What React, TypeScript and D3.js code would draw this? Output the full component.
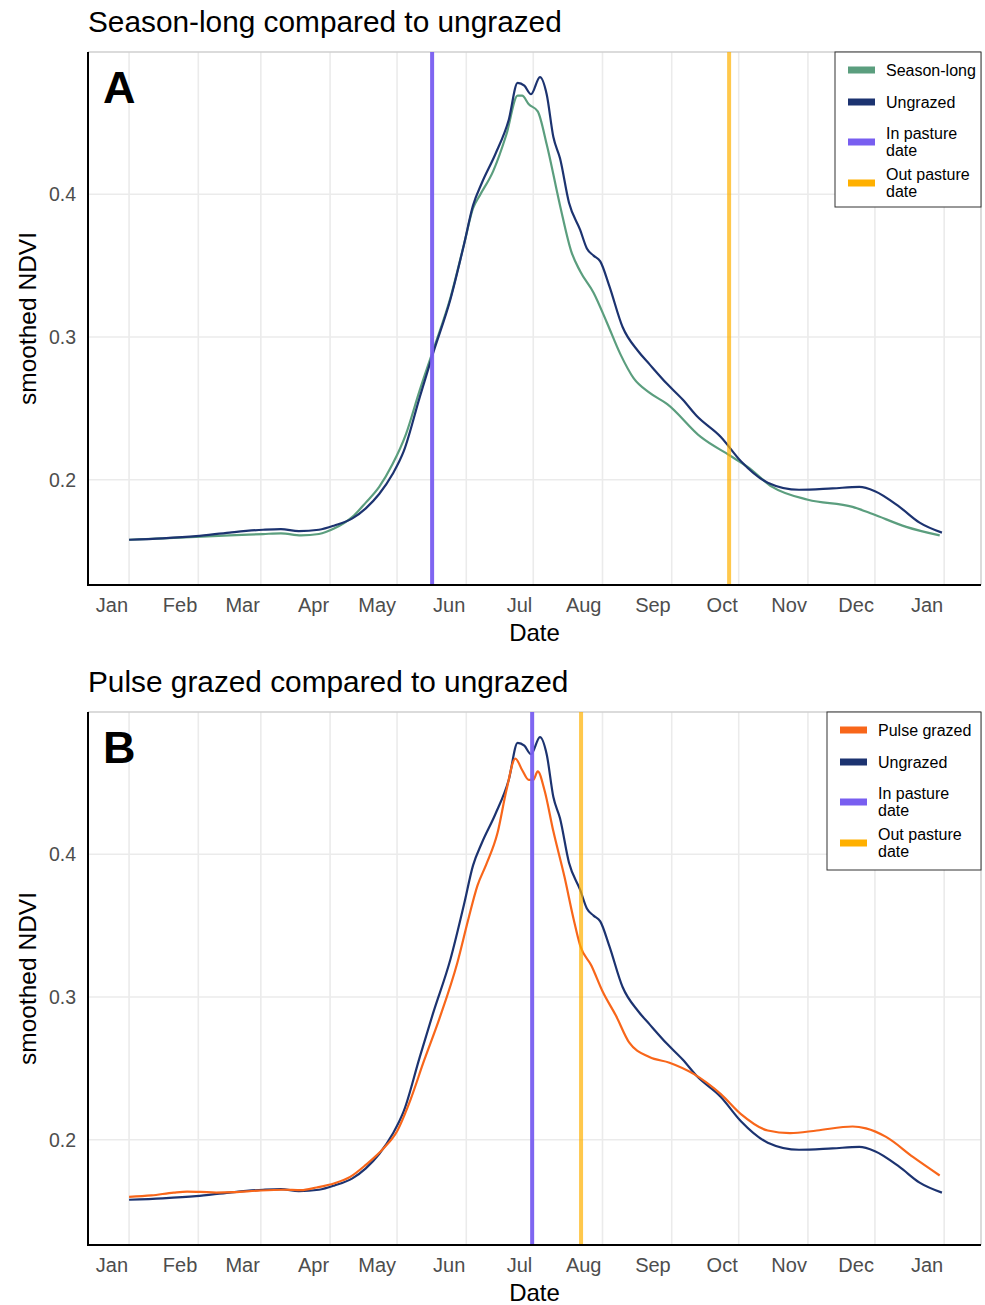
import React from "react";
import * as d3 from "d3";

// day-of-year offsets (from Jan 1) and smoothed NDVI
const ungrazedDays = [0, 15, 30, 45, 60, 68, 76, 85, 92, 100, 106, 112, 118, 123, 130, 136, 144, 150, 154, 158, 164, 170, 174, 177, 180, 184, 187, 190, 193, 197, 202, 205, 208, 211, 215, 221, 228, 233, 241, 248, 254, 265, 274, 286, 300, 315, 327, 334, 345, 354, 364];
const ungrazedNdvi = [0.158, 0.159, 0.1605, 0.163, 0.165, 0.1655, 0.164, 0.165, 0.168, 0.173, 0.18, 0.19, 0.204, 0.22, 0.257, 0.288, 0.327, 0.365, 0.392, 0.408, 0.428, 0.452, 0.478, 0.476, 0.47, 0.482, 0.47, 0.44, 0.425, 0.394, 0.375, 0.362, 0.357, 0.353, 0.336, 0.307, 0.29, 0.281, 0.267, 0.256, 0.245, 0.23, 0.213, 0.198, 0.193, 0.194, 0.195, 0.192, 0.181, 0.17, 0.163];

const seasonDays = [0, 30, 45, 60, 68, 77, 85, 92, 100, 106, 112, 118, 124, 130, 136, 144, 150, 154, 157, 163, 169, 174, 176, 179, 183, 187, 193, 198, 202, 208, 214, 220, 226, 233, 241, 256, 269, 277, 288, 304, 324, 333, 348, 363];
const seasonNdvi = [0.158, 0.16, 0.161, 0.162, 0.1625, 0.161, 0.162, 0.166, 0.174, 0.184, 0.195, 0.211, 0.232, 0.262, 0.29, 0.328, 0.365, 0.39, 0.399, 0.416, 0.442, 0.469, 0.469, 0.463, 0.458, 0.435, 0.392, 0.36, 0.346, 0.331, 0.31, 0.288, 0.271, 0.261, 0.253, 0.23, 0.217, 0.209, 0.195, 0.186, 0.181, 0.176, 0.167, 0.161];

const pulseDays = [0, 10, 20, 26, 32, 39, 47, 58, 69, 77, 84, 92, 99, 106, 114, 120, 126, 132, 139, 147, 152, 156, 160, 165, 169, 173, 176, 179, 181, 183, 186, 190, 195, 199, 202, 207, 212, 218, 224, 233, 242, 253, 265, 274, 286, 296, 308, 324, 330, 339, 351, 363];
const pulseNdvi = [0.16, 0.161, 0.163, 0.1637, 0.1635, 0.163, 0.1633, 0.1644, 0.165, 0.1647, 0.1666, 0.1696, 0.174, 0.1824, 0.194, 0.206, 0.228, 0.255, 0.285, 0.324, 0.355, 0.378, 0.393, 0.415, 0.445, 0.467, 0.459, 0.452, 0.452, 0.458, 0.445, 0.416, 0.384, 0.355, 0.336, 0.322, 0.304, 0.287, 0.268, 0.258, 0.254, 0.246, 0.232, 0.218, 0.2065, 0.2047, 0.2065, 0.2093, 0.208, 0.202, 0.188, 0.175];

const yTicks = [0.2, 0.3, 0.4];
const inPastureA = 135.7;
const outPastureA = 268.7;
const inPastureB = 180.5;
const outPastureB = 202.4;

const C = {
  season: "#5B9E7E",
  ungrazed: "#1C3370",
  pulse: "#F8661A",
  inPasture: "#785EF0",
  outPasture: "#FFB000",
};

const base = new Date(2021, 0, 1).getTime();
const toDate = (d: number) => new Date(base + d * 864e5);
const FONT = "'Liberation Sans', Arial, Helvetica, sans-serif";

const x = d3.scaleTime().domain([toDate(-18.4), toDate(381.5)]).range([88, 981]);
const monthTicks = d3.timeMonth.range(new Date(2021, 0, 1), new Date(2022, 0, 2));
const fmt = d3.timeFormat("%b");

type Series = { days: number[]; vals: number[]; color: string };
type LegendItem = { lines: string[]; color: string };

function Panel({ top, title, letter, series, vlines, legend, legendX }: {
  top: number; title: string; letter: string; series: Series[];
  vlines: { day: number; color: string }[]; legend: LegendItem[]; legendX: number;
}) {
  const bottom = top + 533;
  const y = d3.scaleLinear().domain([0.1263, 0.4996]).range([bottom, top]);
  const line = d3.line<[number, number]>()
    .x((p) => x(toDate(p[0])))
    .y((p) => y(p[1]))
    .curve(d3.curveMonotoneX);
  const [x0, x1] = x.range();

  // legend layout
  const rows: { item: LegendItem; cy: number }[] = [];
  let cy = top + 18;
  legend.forEach((item, i) => {
    if (item.lines.length === 1) {
      rows.push({ item, cy });
      cy += 32;
    } else {
      const c = i === 2 ? cy + 8 : cy + 4;
      rows.push({ item, cy: c });
      cy = c + 37;
    }
  });

  return (
    <g>
      <text x={88} y={top - 20} fontSize={29.8} fontFamily={FONT} fill="#000">{title}</text>
      {/* grid */}
      {monthTicks.map((m, i) => (
        <line key={"gx" + i} x1={x(m)} x2={x(m)} y1={top} y2={bottom} stroke="#EBEBEB" strokeWidth={1.6} />
      ))}
      {yTicks.map((t) => (
        <line key={"gy" + t} x1={x0} x2={x1} y1={y(t)} y2={y(t)} stroke="#EBEBEB" strokeWidth={1.6} />
      ))}
      {/* panel border */}
      <line x1={x0} x2={x1} y1={top} y2={top} stroke="#CFCFCF" strokeWidth={1.5} />
      <line x1={x1} x2={x1} y1={top} y2={bottom} stroke="#CFCFCF" strokeWidth={1.5} />
      {/* series */}
      {series.map((s, i) => (
        <path key={"s" + i} d={line(s.days.map((d, j) => [d, s.vals[j]] as [number, number])) || ""}
          fill="none" stroke={s.color} strokeWidth={2.2} />
      ))}
      {vlines.map((v, i) => (
        <line key={"v" + i} x1={x(toDate(v.day))} x2={x(toDate(v.day))} y1={top} y2={bottom}
          stroke={v.color} strokeOpacity={v.color === C.outPasture ? 0.7 : 0.95} strokeWidth={4} />
      ))}
      {/* axes */}
      <line x1={x0} x2={x0} y1={top} y2={bottom + 1} stroke="#000" strokeWidth={2} />
      <line x1={x0 - 1} x2={x1} y1={bottom} y2={bottom} stroke="#000" strokeWidth={2} />
      {yTicks.map((t) => (
        <text key={"yt" + t} x={76} y={y(t)} dy="0.35em" textAnchor="end" fontSize={19.5}
          fontFamily={FONT} fill="#4D4D4D">{t.toFixed(1)}</text>
      ))}
      {monthTicks.map((m, i) => (
        <text key={"xt" + i} x={x(m) - 1} y={bottom + 27} textAnchor="end" fontSize={20}
          fontFamily={FONT} fill="#4D4D4D">{fmt(m)}</text>
      ))}
      <text x={(x0 + x1) / 2} y={bottom + 56} textAnchor="middle" fontSize={24} fontFamily={FONT} fill="#000">Date</text>
      <text transform={`translate(36,${(top + bottom) / 2}) rotate(-90)`} textAnchor="middle" fontSize={24.5}
        fontFamily={FONT} fill="#000">smoothed NDVI</text>
      <text x={103} y={top + 51} fontSize={45} fontWeight="bold" fontFamily={FONT} fill="#000">{letter}</text>
      {/* legend */}
      <rect x={legendX} y={top} width={981 - legendX} height={155 + (top > 600 ? 3 : 0)} fill="#fff" stroke="#333" strokeWidth={1} />
      {rows.map(({ item, cy }, i) => (
        <g key={"lg" + i}>
          <rect x={legendX + 13} y={cy - 3.5} width={27} height={7} fill={item.color} />
          {item.lines.map((ln, k) => (
            <text key={k} x={legendX + 51} y={cy + (k - (item.lines.length - 1) / 2) * 17} dy="0.35em"
              fontSize={16} fontFamily={FONT} fill="#000">{ln}</text>
          ))}
        </g>
      ))}
    </g>
  );
}

export default function App() {
  return (
    <svg width={985} height={1305} style={{ position: "absolute", left: 0, top: 0, background: "#fff" }}>
      <rect width={985} height={1305} fill="#fff" />
      <Panel top={52} title="Season-long compared to ungrazed" letter="A" legendX={835}
        series={[
          { days: seasonDays, vals: seasonNdvi, color: C.season },
          { days: ungrazedDays, vals: ungrazedNdvi, color: C.ungrazed },
        ]}
        vlines={[{ day: inPastureA, color: C.inPasture }, { day: outPastureA, color: C.outPasture }]}
        legend={[
          { lines: ["Season-long"], color: C.season },
          { lines: ["Ungrazed"], color: C.ungrazed },
          { lines: ["In pasture", "date"], color: C.inPasture },
          { lines: ["Out pasture", "date"], color: C.outPasture },
        ]} />
      <Panel top={712} title="Pulse grazed compared to ungrazed" letter="B" legendX={827}
        series={[
          { days: ungrazedDays, vals: ungrazedNdvi, color: C.ungrazed },
          { days: pulseDays, vals: pulseNdvi, color: C.pulse },
        ]}
        vlines={[{ day: inPastureB, color: C.inPasture }, { day: outPastureB, color: C.outPasture }]}
        legend={[
          { lines: ["Pulse grazed"], color: C.pulse },
          { lines: ["Ungrazed"], color: C.ungrazed },
          { lines: ["In pasture", "date"], color: C.inPasture },
          { lines: ["Out pasture", "date"], color: C.outPasture },
        ]} />
    </svg>
  );
}
